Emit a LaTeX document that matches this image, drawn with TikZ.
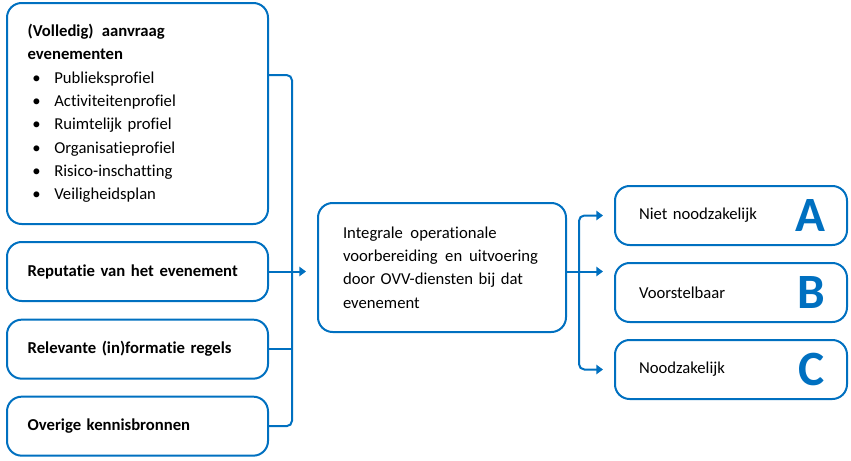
\documentclass[tikz,border=0pt]{standalone}
\usepackage{fontspec}
\setmainfont{Carlito}[Ligatures={NoCommon,NoContextual}]
\usetikzlibrary{arrows.meta, positioning, calc}
\definecolor{ovvblauw}{RGB}{0,112,192}
\newcommand{\punt}[1]{\makebox[20pt][l]{\hspace{3.5pt}\textbullet}#1}

\begin{document}
\begin{tikzpicture}[
		x=0.75pt, y=-0.75pt,
		% Estilos de los bloques
		bron/.style = {draw=ovvblauw, line width=1.5pt, outer sep=0pt, rounded corners=11pt, text width=164.75pt, inner xsep=15.5pt, minimum height=44.25pt, align=left, font=\fontsize{12.5}{17.5}\selectfont\bfseries},
		aanvraagbox/.style = {bron, minimum height=165.75pt},
		kern/.style = {draw=ovvblauw, line width=1.5pt, outer sep=0pt, rounded corners=11pt, text width=148.5pt, inner xsep=18.75pt, minimum height=96.75pt, align=left, font=\fontsize{12.5}{17.5}\selectfont},
		uitkomst/.style = {draw=ovvblauw, line width=1.5pt, outer sep=0pt, rounded corners=11pt, text width=138pt, inner xsep=18pt, minimum height=44.25pt, align=left, font=\fontsize{12.5}{17.5}\selectfont},
		letter/.style = {inner sep=0pt, outer sep=0pt, text=ovvblauw, font=\fontsize{37}{37}\selectfont\bfseries},
		lijn/.style = {draw=ovvblauw, line width=1.5pt},
		pijl/.style = {lijn, -{Triangle[length=5pt, width=7pt]}}
		]
		\useasboundingbox (0,0) rectangle (851,461);
		
		% --- FUENTES (IZQUIERDA) ---
		\node [aanvraagbox, anchor=north west] (aanvraag) at (7,3) {(Volledig)\hspace{2pt} aanvraag\\ evenementen\\
			\normalfont\punt{Publieksprofiel}\\ \normalfont\punt{Activiteitenprofiel}\\ \normalfont\punt{Ruimtelijk profiel}\\
			\normalfont\punt{Organisatieprofiel}\\ \normalfont\punt{Risico-inschatting}\\ \normalfont\punt{Veiligheidsplan}};
		\node [bron, below=13.5pt of aanvraag] (reputatie) {Reputatie van het evenement};
		\node [bron, below=14pt of reputatie] (relevant) {Relevante (in)formatie regels};
		\node [bron, below=13.5pt of relevant] (overige) {Overige kennisbronnen};
		
		% --- BLOQUE CENTRAL ---
		\node [kern, right=37.5pt of reputatie, yshift=3pt] (integraal) {Integrale\hspace{1.5pt} operationale\\ voorbereiding\hspace{1.5pt} en\hspace{1pt} uitvoering\\ door OVV-diensten bij dat\\ evenement};
		
		% --- RESULTADOS (DERECHA) ---
		\node [uitkomst, right=36.75pt of integraal, yshift=-18.75pt] (voorstel) {Voorstelbaar};
		\node [uitkomst, above=13.5pt of voorstel] (nietnodig) {Niet noodzakelijk};
		\node [uitkomst, below=13.5pt of voorstel] (nodig) {Noodzakelijk};
		\node [letter, left=16.5pt of nietnodig.east] (letterA) {A};
		\node [letter, left=16.5pt of voorstel.east] (letterB) {B};
		\node [letter, left=16.5pt of nodig.east] (letterC) {C};
		
		% --- CONEXIONES ---
		% Barra colectora de las fuentes
		\coordinate (bus) at ($(reputatie.east)+(18pt,0)$);
		\coordinate (uitaanvraag) at ($(aanvraag.north east)+(0,-54pt)$);
		\draw [lijn, rounded corners=4pt] (uitaanvraag) -| (bus |- overige.east) -- (overige.east);
		\draw [lijn] (relevant.east) -- (relevant.east -| bus);
		\draw [pijl, shorten >=9pt] (reputatie.east) -- (reputatie.east -| integraal.west);
		
		% Reparto hacia los tres resultados
		\coordinate (splits) at ($(reputatie.east -| integraal.east)+(9.75pt,0)$);
		\draw [lijn] (reputatie.east -| integraal.east) -- (splits);
		\draw [pijl, shorten >=9pt] (splits) -- (splits -| voorstel.west);
		\draw [pijl, rounded corners=4pt, shorten >=9pt] (splits) |- (nietnodig.west);
		\draw [pijl, rounded corners=4pt, shorten >=9pt] (splits) |- (nodig.west);
		
	\end{tikzpicture}
\end{document}
